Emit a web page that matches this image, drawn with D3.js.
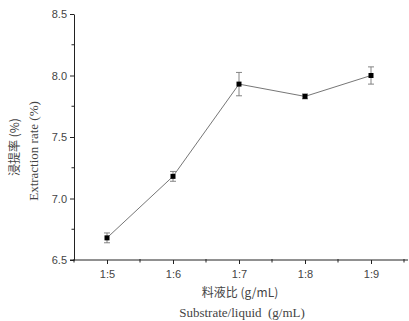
<!DOCTYPE html>
<html>
<head>
<meta charset="utf-8">
<script src="https://cdn.jsdelivr.net/npm/d3@7"></script>
<style>
  body { margin: 0; background: #fff; }
  svg { display: block; }
</style>
</head>
<body>
<svg id="chart" width="409" height="321"></svg>
<script>
// ratios on x, extraction rate with error
const ratios = ['1:5', '1:6', '1:7', '1:8', '1:9'];
const ratioPos = [5, 6, 7, 8, 9];
const rates = [6.68, 7.18, 7.93, 7.83, 8.00];
const errors = [0.04, 0.04, 0.095, 0.02, 0.07];
const yTicks = [6.5, 7.0, 7.5, 8.0, 8.5];

const svg = d3.select('#chart');
const textColor = '#444';

const x = d3.scaleLinear().domain([4.5, 9.5]).range([74, 404]);
const y = d3.scaleLinear().domain([6.5, 8.5]).range([260, 14]);

// axes
const xAxis = svg.append('g')
  .attr('transform', `translate(0,${y(6.5)})`)
  .call(d3.axisBottom(x).tickValues(ratioPos).tickFormat((d, i) => ratios[i])
    .tickSizeInner(4).tickSizeOuter(0).tickPadding(6));
xAxis.append('g').selectAll('line')
  .data(d3.range(4.5, 10, 1))
  .enter().append('line')
  .attr('x1', d => x(d)).attr('x2', d => x(d))
  .attr('y1', -1).attr('y2', 2.5)
  .attr('stroke', '#222');
xAxis.select('.domain').attr('d', `M${x(4.5) - 4},0H408`);

const yAxis = svg.append('g')
  .attr('transform', `translate(${x(4.5)},0)`)
  .call(d3.axisLeft(y).tickValues(yTicks).tickFormat(d3.format('.1f'))
    .tickSizeInner(4).tickSizeOuter(0).tickPadding(3));
yAxis.append('g').selectAll('line')
  .data(d3.range(6.75, 8.5, 0.5))
  .enter().append('line')
  .attr('x1', 0).attr('x2', -2.5)
  .attr('y1', d => y(d)).attr('y2', d => y(d))
  .attr('stroke', '#222');

svg.selectAll('.domain, .tick line').attr('stroke', '#222');
svg.selectAll('.tick text')
  .attr('fill', textColor)
  .style('font-family', 'Liberation Sans, Arial, sans-serif')
  .style('font-size', '11px');

// line
const line = d3.line().x((d, i) => x(ratioPos[i])).y(d => y(d));
svg.append('path')
  .datum(rates)
  .attr('d', line)
  .attr('fill', 'none')
  .attr('stroke', '#666')
  .attr('stroke-width', 0.9);

// error bars
const eb = svg.append('g').attr('stroke', '#777').attr('stroke-width', 0.9);
rates.forEach((r, i) => {
  const cx = x(ratioPos[i]);
  eb.append('line').attr('x1', cx).attr('x2', cx).attr('y1', y(r - errors[i])).attr('y2', y(r + errors[i]));
  eb.append('line').attr('x1', cx - 3).attr('x2', cx + 3).attr('y1', y(r - errors[i])).attr('y2', y(r - errors[i]));
  eb.append('line').attr('x1', cx - 3).attr('x2', cx + 3).attr('y1', y(r + errors[i])).attr('y2', y(r + errors[i]));
});

// markers
svg.append('g').selectAll('rect')
  .data(rates)
  .enter().append('rect')
  .attr('x', (d, i) => x(ratioPos[i]) - 2.5)
  .attr('y', d => y(d) - 2.5)
  .attr('width', 5).attr('height', 5)
  .attr('fill', '#000');

// axis titles
svg.append('text')
  .attr('x', 240).attr('y', 297)
  .attr('text-anchor', 'middle')
  .attr('fill', textColor)
  .style('font-family', 'Noto Sans CJK SC, sans-serif')
  .style('font-size', '12px')
  .text('料液比 (g/mL)');
svg.append('text')
  .attr('x', 242).attr('y', 317)
  .attr('text-anchor', 'middle')
  .attr('fill', textColor)
  .style('font-family', 'Liberation Serif, Times New Roman, serif')
  .style('font-size', '13px')
  .attr('xml:space', 'preserve')
  .text('Substrate/liquid  (g/mL)');

svg.append('text')
  .attr('transform', 'translate(38,151) rotate(-90)')
  .attr('text-anchor', 'middle')
  .attr('fill', textColor)
  .style('font-family', 'Liberation Serif, Times New Roman, serif')
  .style('font-size', '13px')
  .text('Extraction rate (%)');
svg.append('text')
  .attr('transform', 'translate(19,147) rotate(-90)')
  .attr('text-anchor', 'middle')
  .attr('fill', textColor)
  .style('font-family', 'Noto Sans CJK SC, sans-serif')
  .style('font-size', '12px')
  .text('浸提率 (%)');
</script>
</body>
</html>
